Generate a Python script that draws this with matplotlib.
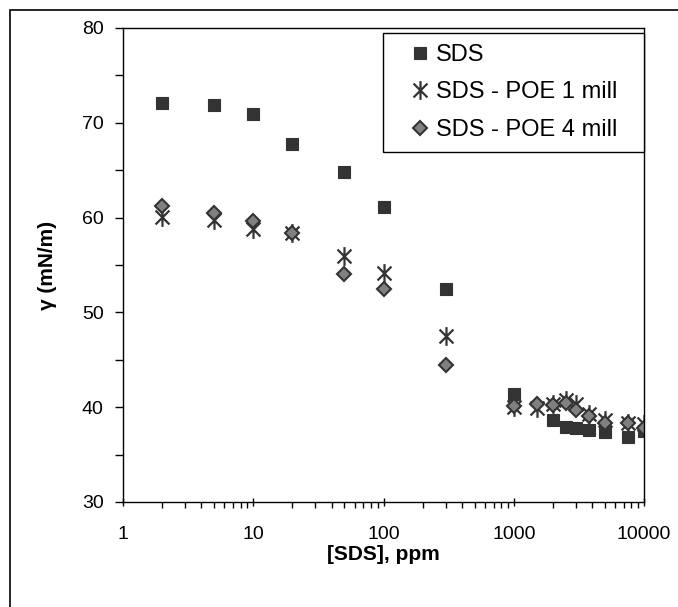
import matplotlib
matplotlib.use("Agg")
import matplotlib.pyplot as plt
import numpy as np
from matplotlib.path import Path
from matplotlib.patches import Rectangle
from matplotlib.ticker import FixedLocator, NullFormatter

plt.rcParams['font.family'] = ['Liberation Sans', 'DejaVu Sans']

# SDS alone
sds_x = [2, 5, 10, 20, 50, 100, 300, 1000, 2000, 2500, 3000, 3750, 5000, 7500, 10000]
sds_y = [72.1, 71.9, 70.9, 67.8, 64.8, 61.1, 52.5, 41.4, 38.6, 37.9, 37.8, 37.6, 37.4, 36.9, 37.5]

# SDS - POE 1 mill
poe1_x = [2, 5, 10, 20, 50, 100, 300, 1000, 1500, 2000, 2500, 3000, 3750, 5000, 7500, 10000]
poe1_y = [60.1, 59.7, 58.8, 58.4, 55.9, 54.2, 47.5, 40.0, 39.9, 40.3, 40.8, 40.3, 39.3, 38.7, 38.3, 38.2]

# SDS - POE 4 mill
poe4_x = [2, 5, 10, 20, 50, 100, 300, 1000, 1500, 2000, 2500, 3000, 3750, 5000, 7500, 10000]
poe4_y = [61.2, 60.5, 59.6, 58.4, 54.0, 52.5, 44.4, 40.1, 40.3, 40.2, 40.4, 39.7, 39.1, 38.3, 38.3, 37.8]

x_ticks = [1, 10, 100, 1000, 10000]
x_labels = ['1', '10', '100', '1000', '10000']
y_ticks = [30, 40, 50, 60, 70, 80]

dark = '#333333'

# excel style star: an X with a vertical bar
star = Path([(-1, -1), (1, 1), (-1, 1), (1, -1), (0, -1.35), (0, 1.35)],
            [Path.MOVETO, Path.LINETO, Path.MOVETO, Path.LINETO, Path.MOVETO, Path.LINETO])

fig = plt.figure(figsize=(6.78, 6.07), dpi=100)
ax = fig.add_axes([123/678, 105/607, 521/678, 474/607])

ax.plot(sds_x, sds_y, ls='none', marker='s', ms=8.3, mfc=dark, mec=dark, mew=0.8, label='SDS')
ax.plot(poe1_x, poe1_y, ls='none', marker=star, ms=13.5, mfc='none', mec=dark, mew=1.6,
        label='SDS - POE 1 mill')
ax.plot(poe4_x, poe4_y, ls='none', marker='D', ms=6.8, mfc='#808080', mec=dark, mew=1.5,
        label='SDS - POE 4 mill')

ax.set_xscale('log')
ax.set_xlim(1, 10000)
ax.set_ylim(30, 80)
ax.set_xticks(x_ticks)
ax.set_xticklabels(x_labels)
ax.xaxis.set_minor_locator(FixedLocator([m * 10**d for d in range(4) for m in range(2, 10)]))
ax.xaxis.set_minor_formatter(NullFormatter())
ax.set_yticks(y_ticks)
ax.yaxis.set_minor_locator(FixedLocator([35, 45, 55, 65, 75]))

ax.tick_params(axis='x', which='major', direction='inout', length=6, width=1, labelsize=14, pad=14)
ax.tick_params(axis='x', which='minor', direction='out', length=4, width=1)
ax.tick_params(axis='y', which='major', direction='out', length=6, width=1, labelsize=14, pad=8)
ax.tick_params(axis='y', which='minor', direction='out', length=6, width=1)

for s in ax.spines.values():
    s.set_linewidth(1)
    s.set_color('black')

ax.set_xlabel('[SDS], ppm', fontsize=15, fontweight='bold', labelpad=2)
ax.set_ylabel('γ (mN/m)', fontsize=15, fontweight='bold', labelpad=18)

leg = ax.legend(loc='upper left', bbox_to_anchor=(0.499, 0.738, 0.501, 0.251), mode='expand',
                fontsize=17, frameon=True, fancybox=False, framealpha=1, edgecolor='black',
                borderpad=0.45, labelspacing=0.66, handlelength=2.2, handletextpad=-0.4,
                borderaxespad=0, numpoints=1)
leg.get_frame().set_linewidth(1)

# outer chart border
fig.patches.append(Rectangle((10/678, -0.1), 1.2, (607-10)/607 + 0.1, transform=fig.transFigure,
                             fill=False, edgecolor='black', lw=1.2))

fig.savefig('out.png', dpi=100)
